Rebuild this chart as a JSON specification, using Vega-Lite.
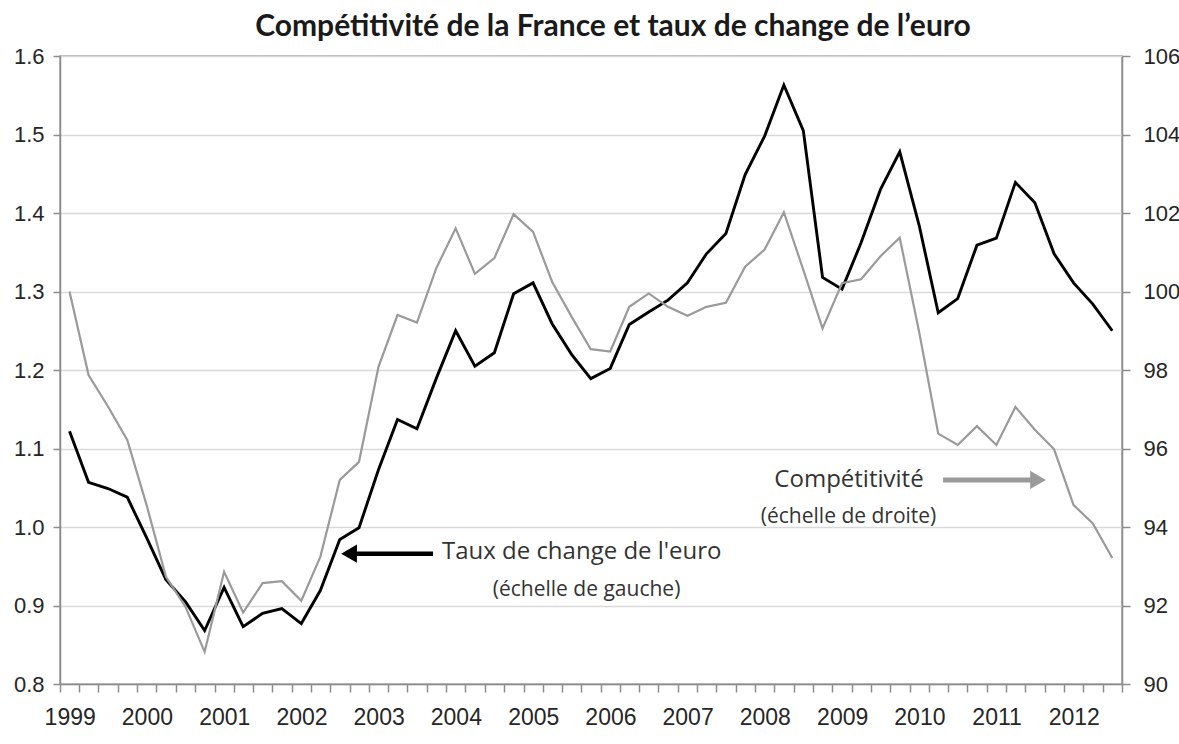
{
  "$schema": "https://vega.github.io/schema/vega-lite/v6.json",
  "width": 1062,
  "height": 628,
  "autosize": {"type": "none"},
  "padding": {"left": 60, "top": 56, "right": 57, "bottom": 60},
  "background": "white",
  "config": {
    "view": {"stroke": "#a0a0a0", "strokeWidth": 1.5},
    "axis": {"labelFont": "Liberation Sans", "labelColor": "#262626", "domainColor": "#8c8c8c", "tickColor": "#8c8c8c", "domainWidth": 1.5, "tickWidth": 1.5}
  },
  "title": {
    "text": "Compétitivité de la France et taux de change de l’euro",
    "font": "Lato",
    "fontSize": 30,
    "fontWeight": "bold",
    "color": "#1a1a1a",
    "anchor": "middle",
    "frame": "group",
    "dx": 22,
    "offset": 3
  },
  "datasets": {
    "series": [
      {"trimestre": "1999-02-15", "euro": 1.122, "competitivite": 100.0},
      {"trimestre": "1999-05-16", "euro": 1.057, "competitivite": 97.87},
      {"trimestre": "1999-08-16", "euro": 1.049, "competitivite": 97.07},
      {"trimestre": "1999-11-15", "euro": 1.038, "competitivite": 96.22},
      {"trimestre": "2000-02-15", "euro": 0.986, "competitivite": 94.55},
      {"trimestre": "2000-05-16", "euro": 0.933, "competitivite": 92.73},
      {"trimestre": "2000-08-16", "euro": 0.905, "competitivite": 91.97},
      {"trimestre": "2000-11-15", "euro": 0.868, "competitivite": 90.82},
      {"trimestre": "2001-02-15", "euro": 0.923, "competitivite": 92.86},
      {"trimestre": "2001-05-16", "euro": 0.873, "competitivite": 91.82},
      {"trimestre": "2001-08-16", "euro": 0.890, "competitivite": 92.57},
      {"trimestre": "2001-11-15", "euro": 0.896, "competitivite": 92.62},
      {"trimestre": "2002-02-15", "euro": 0.877, "competitivite": 92.12},
      {"trimestre": "2002-05-16", "euro": 0.919, "competitivite": 93.24},
      {"trimestre": "2002-08-16", "euro": 0.984, "competitivite": 95.2},
      {"trimestre": "2002-11-15", "euro": 0.999, "competitivite": 95.66},
      {"trimestre": "2003-02-15", "euro": 1.073, "competitivite": 98.08},
      {"trimestre": "2003-05-16", "euro": 1.137, "competitivite": 99.4},
      {"trimestre": "2003-08-16", "euro": 1.125, "competitivite": 99.21},
      {"trimestre": "2003-11-15", "euro": 1.189, "competitivite": 100.59},
      {"trimestre": "2004-02-15", "euro": 1.250, "competitivite": 101.61},
      {"trimestre": "2004-05-16", "euro": 1.205, "competitivite": 100.45},
      {"trimestre": "2004-08-16", "euro": 1.222, "competitivite": 100.85},
      {"trimestre": "2004-11-15", "euro": 1.297, "competitivite": 101.97},
      {"trimestre": "2005-02-15", "euro": 1.311, "competitivite": 101.52},
      {"trimestre": "2005-05-16", "euro": 1.259, "competitivite": 100.25},
      {"trimestre": "2005-08-16", "euro": 1.220, "competitivite": 99.36},
      {"trimestre": "2005-11-15", "euro": 1.189, "competitivite": 98.53},
      {"trimestre": "2006-02-15", "euro": 1.202, "competitivite": 98.47},
      {"trimestre": "2006-05-16", "euro": 1.258, "competitivite": 99.61},
      {"trimestre": "2006-08-16", "euro": 1.274, "competitivite": 99.95},
      {"trimestre": "2006-11-15", "euro": 1.289, "competitivite": 99.61},
      {"trimestre": "2007-02-15", "euro": 1.311, "competitivite": 99.38},
      {"trimestre": "2007-05-16", "euro": 1.348, "competitivite": 99.61},
      {"trimestre": "2007-08-16", "euro": 1.374, "competitivite": 99.71},
      {"trimestre": "2007-11-15", "euro": 1.449, "competitivite": 100.63},
      {"trimestre": "2008-02-15", "euro": 1.498, "competitivite": 101.07},
      {"trimestre": "2008-05-16", "euro": 1.563, "competitivite": 102.02},
      {"trimestre": "2008-08-16", "euro": 1.505, "competitivite": 100.55},
      {"trimestre": "2008-11-15", "euro": 1.318, "competitivite": 99.06},
      {"trimestre": "2009-02-15", "euro": 1.303, "competitivite": 100.21},
      {"trimestre": "2009-05-16", "euro": 1.362, "competitivite": 100.31},
      {"trimestre": "2009-08-16", "euro": 1.430, "competitivite": 100.9},
      {"trimestre": "2009-11-15", "euro": 1.478, "competitivite": 101.37},
      {"trimestre": "2010-02-15", "euro": 1.384, "competitivite": 98.96},
      {"trimestre": "2010-05-16", "euro": 1.273, "competitivite": 96.38},
      {"trimestre": "2010-08-16", "euro": 1.291, "competitivite": 96.09},
      {"trimestre": "2010-11-15", "euro": 1.359, "competitivite": 96.57},
      {"trimestre": "2011-02-15", "euro": 1.368, "competitivite": 96.09},
      {"trimestre": "2011-05-16", "euro": 1.439, "competitivite": 97.06},
      {"trimestre": "2011-08-16", "euro": 1.413, "competitivite": 96.48},
      {"trimestre": "2011-11-15", "euro": 1.348, "competitivite": 95.98},
      {"trimestre": "2012-02-15", "euro": 1.311, "competitivite": 94.56},
      {"trimestre": "2012-05-16", "euro": 1.284, "competitivite": 94.09},
      {"trimestre": "2012-08-16", "euro": 1.250, "competitivite": 93.21}
    ],
    "fleche_gauche": [{"pointe": "2002-09-29", "queue": "2003-10-31", "niveau": 0.966}],
    "notes_gauche": [
      {"role": "titre", "date": "2003-12-12", "niveau": 0.968, "texte": "Taux de change de l'euro"},
      {"role": "sous", "date": "2005-10-26", "niveau": 0.92, "texte": "(échelle de gauche)"}
    ],
    "fleche_droite": [{"pointe": "2011-08-31", "queue": "2010-06-08", "niveau": 95.2}],
    "notes_droite": [
      {"role": "titre", "date": "2009-03-20", "niveau": 95.2, "texte": "Compétitivité"},
      {"role": "sous", "date": "2009-03-18", "niveau": 94.25, "texte": "(échelle de droite)"}
    ]
  },
  "layer": [
    {
      "layer": [
        {
          "data": {"name": "series"},
          "mark": {"type": "line", "color": "#000000", "strokeWidth": 2.9},
          "encoding": {
            "x": {
              "field": "trimestre", "type": "temporal",
              "scale": {"type": "utc", "domain": [{"year": 1999, "month": 1, "date": 1, "utc": true}, {"year": 2012, "month": 10, "date": 1, "utc": true}]},
              "axis": {
                "title": null,
                "grid": false,
                "tickCount": {"interval": "month", "step": 3},
                "labelExpr": "utcmonth(datum.value) == 0 ? utcFormat(datum.value, '%Y') : ''",
                "labelOffset": 9.7,
                "labelOverlap": false,
                "labelFlush": false,
                "labelBound": false,
                "tickSize": 8,
                "labelPadding": 14,
                "labelFontSize": 23,
                "labelBaseline": "top"
              }
            },
            "y": {
              "field": "euro", "type": "quantitative",
              "scale": {"domain": [0.8, 1.6], "zero": false, "nice": false},
              "axis": {
                "orient": "left",
                "title": null,
                "values": [0.8, 0.9, 1.0, 1.1, 1.2, 1.3, 1.4, 1.5, 1.6],
                "format": ".1f",
                "grid": true,
                "gridColor": "#d9d9d9",
                "gridWidth": 1.5,
                "tickSize": 7,
                "labelPadding": 9,
                "labelFontSize": 22
              }
            }
          }
        },
        {
          "data": {"name": "fleche_gauche"},
          "mark": {"type": "rule", "color": "#000000", "strokeWidth": 4.5},
          "encoding": {
            "x": {"field": "pointe", "type": "temporal"},
            "x2": {"field": "queue"},
            "y": {"field": "niveau", "type": "quantitative"}
          }
        },
        {
          "data": {"name": "fleche_gauche"},
          "mark": {"type": "point", "shape": "triangle-left", "filled": true, "color": "#000000", "opacity": 1, "size": 330},
          "encoding": {
            "x": {"field": "pointe", "type": "temporal"},
            "y": {"field": "niveau", "type": "quantitative"}
          }
        },
        {
          "data": {"name": "notes_gauche"},
          "transform": [{"filter": "datum.role == 'titre'"}],
          "mark": {"type": "text", "font": "Open Sans", "fontSize": 24, "color": "#333333", "align": "left", "baseline": "middle"},
          "encoding": {
            "x": {"field": "date", "type": "temporal"},
            "y": {"field": "niveau", "type": "quantitative"},
            "text": {"field": "texte"}
          }
        },
        {
          "data": {"name": "notes_gauche"},
          "transform": [{"filter": "datum.role == 'sous'"}],
          "mark": {"type": "text", "font": "Open Sans", "fontSize": 21, "color": "#333333", "align": "center", "baseline": "middle"},
          "encoding": {
            "x": {"field": "date", "type": "temporal"},
            "y": {"field": "niveau", "type": "quantitative"},
            "text": {"field": "texte"}
          }
        }
      ]
    },
    {
      "layer": [
        {
          "data": {"name": "series"},
          "mark": {"type": "line", "color": "#9a9a9a", "strokeWidth": 2.2},
          "encoding": {
            "x": {"field": "trimestre", "type": "temporal"},
            "y": {
              "field": "competitivite", "type": "quantitative",
              "scale": {"domain": [90, 106], "zero": false, "nice": false},
              "axis": {
                "orient": "right",
                "title": null,
                "values": [90, 92, 94, 96, 98, 100, 102, 104, 106],
                "grid": false,
                "tickSize": 8,
                "labelPadding": 13,
                "labelFontSize": 22
              }
            }
          }
        },
        {
          "data": {"name": "fleche_droite"},
          "mark": {"type": "rule", "color": "#9a9a9a", "strokeWidth": 5},
          "encoding": {
            "x": {"field": "queue", "type": "temporal"},
            "x2": {"field": "pointe"},
            "y": {"field": "niveau", "type": "quantitative"}
          }
        },
        {
          "data": {"name": "fleche_droite"},
          "mark": {"type": "point", "shape": "triangle-right", "filled": true, "color": "#9a9a9a", "opacity": 1, "size": 330},
          "encoding": {
            "x": {"field": "pointe", "type": "temporal"},
            "y": {"field": "niveau", "type": "quantitative"}
          }
        },
        {
          "data": {"name": "notes_droite"},
          "transform": [{"filter": "datum.role == 'titre'"}],
          "mark": {"type": "text", "font": "Open Sans", "fontSize": 24, "color": "#333333", "align": "center", "baseline": "middle"},
          "encoding": {
            "x": {"field": "date", "type": "temporal"},
            "y": {"field": "niveau", "type": "quantitative"},
            "text": {"field": "texte"}
          }
        },
        {
          "data": {"name": "notes_droite"},
          "transform": [{"filter": "datum.role == 'sous'"}],
          "mark": {"type": "text", "font": "Open Sans", "fontSize": 21, "color": "#333333", "align": "center", "baseline": "middle"},
          "encoding": {
            "x": {"field": "date", "type": "temporal"},
            "y": {"field": "niveau", "type": "quantitative"},
            "text": {"field": "texte"}
          }
        }
      ]
    }
  ],
  "resolve": {"scale": {"y": "independent"}}
}
